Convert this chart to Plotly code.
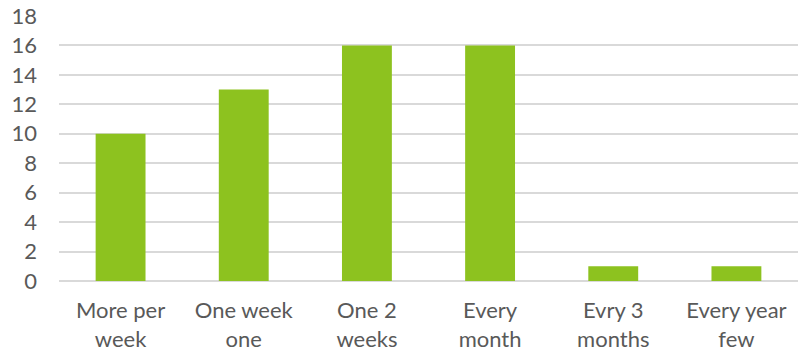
import plotly.graph_objects as go

categories = ["More per<br>week", "One week<br>one", "One 2<br>weeks", "Every<br>month", "Evry 3<br>months", "Every year<br>few"]
values = [10, 13, 16, 16, 1, 1]
y_ticks = list(range(0, 19, 2))

fig = go.Figure(go.Bar(x=categories, y=values, marker=dict(color="#8DC21F", line=dict(width=0))))

fig.update_layout(
    width=800, height=354,
    margin=dict(l=59, r=2, t=16, b=73),
    paper_bgcolor="white", plot_bgcolor="white",
    bargap=0.595,
    font=dict(family="Lato", size=22, color="#595959"),
    showlegend=False,
)
fig.update_xaxes(showgrid=False, showline=False, ticks="", tickfont=dict(size=22), ticklabelstandoff=14)
fig.update_yaxes(range=[0, 18], tickvals=y_ticks, showgrid=True, gridcolor="#D9D9D9", gridwidth=1.5,
                 zeroline=True, zerolinecolor="#D9D9D9", zerolinewidth=1.5, showline=False, ticks="",
                 ticklabelstandoff=21, tickfont=dict(size=22))

fig.write_html("out.html")
